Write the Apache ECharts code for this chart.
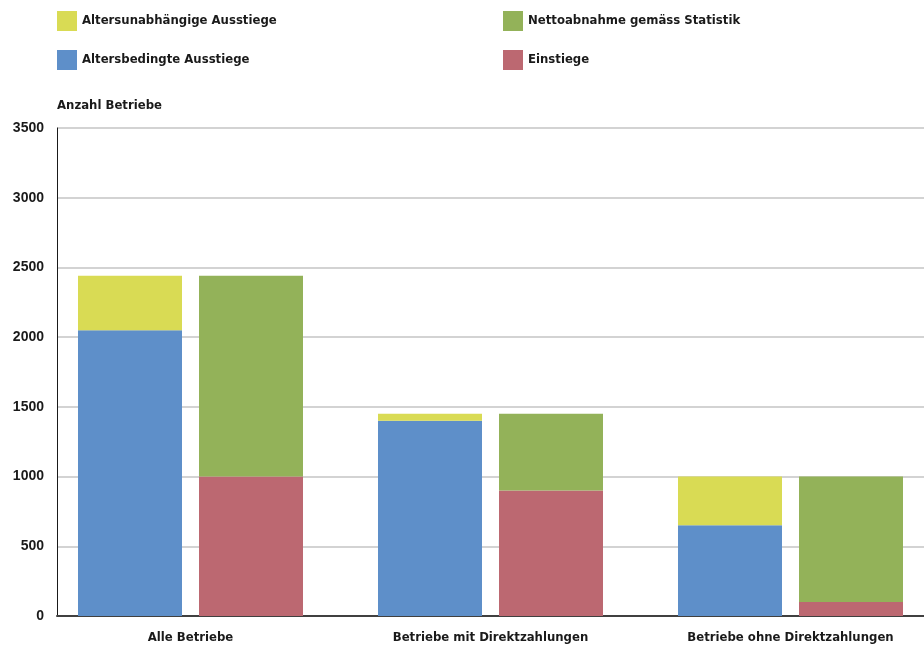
<!DOCTYPE html>
<html>
<head>
<meta charset="utf-8">
<script src="https://cdn.jsdelivr.net/npm/echarts@6/dist/echarts.min.js"></script>
<style>
  html, body { margin: 0; padding: 0; background: #ffffff; }
  #chart { width: 924px; height: 646px; }
</style>
</head>
<body>
<div id="chart"></div>
<script>
// Farm counts: exits and entries per farm group
const categories = ['Alle Betriebe', 'Betriebe mit Direktzahlungen', 'Betriebe ohne Direktzahlungen'];
const altersbedingt = [2050, 1400, 650];     // age-related exits
const altersunabhaengig = [390, 50, 350];    // non-age-related exits
const einstiege = [1000, 900, 100];          // entries
const nettoabnahme = [1440, 550, 900];       // net decrease per statistics
const yTicks = [0, 500, 1000, 1500, 2000, 2500, 3000, 3500];

const narrowFont = '"DejaVu Sans Condensed", "Liberation Sans Narrow", "Noto Sans", sans-serif';
const colors = {
  yellow: '#d9db54',
  blue: '#5e8fc9',
  green: '#93b259',
  red: '#bc6871'
};

// Each point is [count, group position]; the count comes first so that
// the stack accumulates along the vertical value axis.
const toPoints = values => values.map((v, i) => [v, i]);

const chart = echarts.init(document.getElementById('chart'), null, { renderer: 'canvas' });

const legendText = { fontFamily: narrowFont, fontWeight: 'bold', fontSize: 13, color: '#1a1a1a' };

const barBase = { type: 'bar', barWidth: 104, barGap: '16.35%', encode: { x: 1, y: 0 } };

chart.setOption({
  animation: false,
  backgroundColor: '#ffffff',
  legend: [
    {
      left: 57, top: 11, orient: 'vertical', itemGap: 19, padding: 0,
      itemWidth: 20, itemHeight: 20, icon: 'rect',
      textStyle: legendText,
      data: ['Altersunabhängige Ausstiege', 'Altersbedingte Ausstiege']
    },
    {
      left: 503, top: 11, orient: 'vertical', itemGap: 19, padding: 0,
      itemWidth: 20, itemHeight: 20, icon: 'rect',
      textStyle: legendText,
      data: ['Nettoabnahme gemäss Statistik', 'Einstiege']
    }
  ],
  grid: { left: 57, right: 0, top: 128, height: 488, containLabel: false },
  xAxis: {
    type: 'value', min: -0.445, max: 2.445,
    axisLine: { show: true, onZero: false, lineStyle: { color: '#404040', width: 2 } },
    axisTick: { show: false },
    splitLine: { show: false },
    axisLabel: {
      customValues: [0, 1, 2],
      margin: 15,
      fontFamily: narrowFont, fontWeight: 'bold', fontSize: 13, color: '#1a1a1a',
      formatter: v => categories[Math.round(v)] || ''
    }
  },
  yAxis: {
    type: 'value', min: 0, max: 3500, interval: 500,
    name: 'Anzahl Betriebe', nameLocation: 'end', nameGap: 16,
    nameTextStyle: {
      align: 'left', fontFamily: narrowFont, fontWeight: 'bold', fontSize: 13, color: '#1a1a1a'
    },
    axisLine: { show: true, onZero: false, lineStyle: { color: '#1a1a1a', width: 1 } },
    axisTick: { show: false },
    axisLabel: {
      margin: 13,
      fontFamily: '"Liberation Sans", Arial, sans-serif', fontWeight: 'bold', fontSize: 14, color: '#1a1a1a',
      formatter: v => (yTicks.indexOf(v) >= 0 ? String(v) : '')
    },
    splitLine: { show: true, lineStyle: { color: '#c4c4c4', width: 1.5 } }
  },
  series: [
    Object.assign({}, barBase, {
      name: 'Altersbedingte Ausstiege', stack: 'ausstiege',
      itemStyle: { color: colors.blue }, data: toPoints(altersbedingt)
    }),
    Object.assign({}, barBase, {
      name: 'Altersunabhängige Ausstiege', stack: 'ausstiege',
      itemStyle: { color: colors.yellow }, data: toPoints(altersunabhaengig)
    }),
    Object.assign({}, barBase, {
      name: 'Einstiege', stack: 'bilanz',
      itemStyle: { color: colors.red }, data: toPoints(einstiege)
    }),
    Object.assign({}, barBase, {
      name: 'Nettoabnahme gemäss Statistik', stack: 'bilanz',
      itemStyle: { color: colors.green }, data: toPoints(nettoabnahme)
    })
  ]
});
</script>
</body>
</html>
